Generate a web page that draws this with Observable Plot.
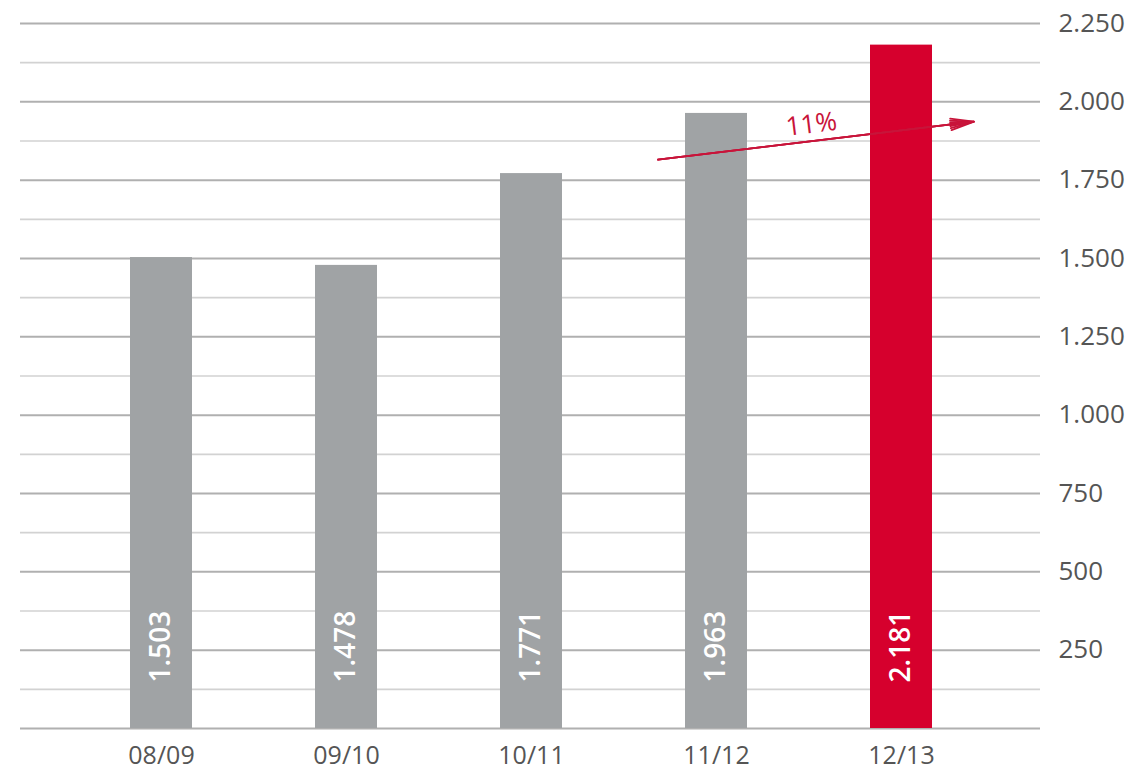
<!DOCTYPE html>
<html><head><meta charset="utf-8">
<script src="https://cdn.jsdelivr.net/npm/d3@7"></script>
<script src="https://cdn.jsdelivr.net/npm/@observablehq/plot@0.6"></script>
<style>body{margin:0;background:#fff}</style>
</head><body><div id="chart"></div>
<script>
const seasons = ["08/09", "09/10", "10/11", "11/12", "12/13"];
const values = [1503, 1478, 1771, 1963, 2181];
const highlight = [false, false, false, false, true];
const yTicks = [250, 500, 750, 1000, 1250, 1500, 1750, 2000, 2250];
const gridMajor = [0, 250, 500, 750, 1000, 1250, 1500, 1750, 2000, 2250];
const gridMinor = [125, 375, 625, 875, 1125, 1375, 1625, 1875, 2125];
const growthLabel = ["11%"];
const arrowSeasons = ["11/12", "12/13"];
const arrowValues = [1838, 1909];
const growthLabelValue = [1928];

const de = d3.formatLocale({decimal: ",", thousands: ".", grouping: [3], currency: ["", ""]});
const fmt = de.format(",.0f");

const data = seasons.map((s, i) => ({season: s, value: values[i], hl: highlight[i]}));
const arrowData = [{x1: arrowSeasons[0], y1: arrowValues[0], x2: arrowSeasons[1], y2: arrowValues[1]}];
const labelData = [{season: arrowSeasons[0], value: growthLabelValue[0], text: growthLabel[0]}];

const RED = "#d6002d";
const GRAY = "#a0a3a5";
const font = "'Open Sans', 'Noto Sans', sans-serif";

const arrowMarks = [28, 18, 8].map(a => Plot.arrow(arrowData, {
  x1: "x1", y1: "y1", x2: "x2", y2: "y2",
  stroke: "#c8143a", strokeWidth: 1.8,
  headLength: 20, headAngle: a,
  insetStart: -59, insetEnd: -73
}));

const chart = Plot.plot({
  width: 1131,
  height: 773,
  marginLeft: 20,
  marginRight: 91,
  marginTop: 23,
  marginBottom: 45,
  style: {fontFamily: font, background: "#fff"},
  x: {domain: seasons, range: [129, 933], paddingInner: 0.666, paddingOuter: 0, label: null},
  y: {domain: [0, 2250], label: null},
  marks: [
    Plot.ruleY(gridMinor, {stroke: "#d2d2d2", strokeWidth: 1.6}),
    Plot.ruleY(gridMajor, {stroke: "#b0b0b0", strokeWidth: 2}),
    Plot.barY(data, {x: "season", y: "value", fill: d => d.hl ? RED : GRAY}),
    Plot.text(data, {
      x: "season", y: 0, text: d => fmt(d.value), rotate: -90,
      textAnchor: "start", lineAnchor: "middle", dy: -46,
      fill: "#fff", fontSize: 28, fontWeight: 600
    }),
    ...arrowMarks,
    Plot.text(labelData, {
      x: "season", y: "value", text: "text", dx: 95, rotate: -7,
      textAnchor: "middle", lineAnchor: "middle",
      fill: "#c8143a", fontSize: 26
    }),
    Plot.axisY({
      anchor: "right", ticks: yTicks, tickFormat: d => fmt(d), tickSize: 0, tickPadding: 18,
      fontSize: 26, color: "#555", textAnchor: "start"
    }),
    Plot.axisX({
      tickSize: 0, tickPadding: 18, fontSize: 25, color: "#555"
    })
  ]
});
document.getElementById("chart").appendChild(chart);
</script>
</body></html>
